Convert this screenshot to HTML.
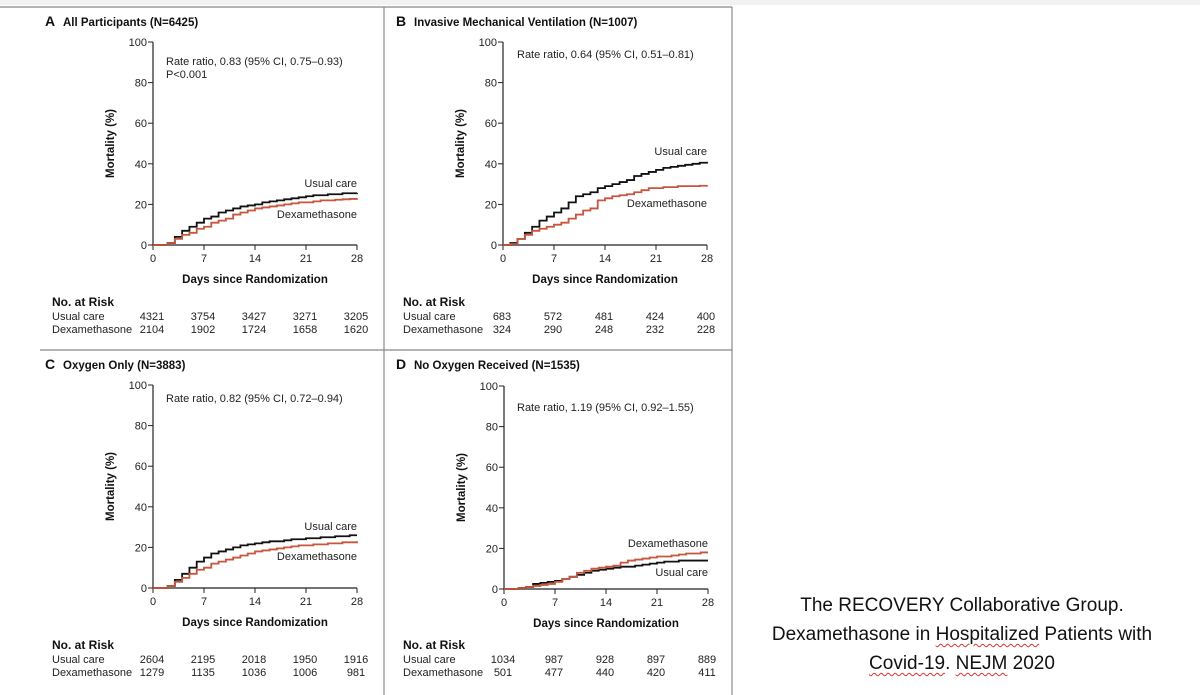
<!DOCTYPE html>
<html><head><meta charset="utf-8">
<style>
html,body{margin:0;padding:0;background:#fff;}
svg{display:block;font-family:"Liberation Sans",sans-serif;}
.cite{position:absolute;left:712px;width:500px;text-align:center;font-family:"Liberation Sans",sans-serif;font-size:19px;color:#111;line-height:29px;top:591px;white-space:nowrap;}
.sq{text-decoration:underline wavy #d33;text-decoration-thickness:1px;text-underline-offset:3px;}
</style></head>
<body>
<svg id="fig" width="1200" height="695" viewBox="0 0 1200 695">
<rect x="0" y="0" width="1200" height="5" fill="#f2f2f2"/>
<line x1="0" y1="7" x2="732" y2="7" stroke="#888" stroke-width="1.2"/>
<line x1="384" y1="7" x2="384" y2="695" stroke="#888" stroke-width="1.2"/>
<line x1="732" y1="7" x2="732" y2="695" stroke="#888" stroke-width="1.2"/>
<line x1="40" y1="350" x2="732" y2="350" stroke="#888" stroke-width="1.2"/>
</svg>
<div class="cite">The RECOVERY Collaborative Group.<br>Dexamethasone in <span class="sq">Hospitalized</span> Patients with<br><span class="sq">Covid-19</span>. <span class="sq">NEJM</span> 2020</div>
<script>
const days=[0,1,2,3,4,5,6,7,8,9,10,11,12,13,14,15,16,17,18,19,20,21,22,23,24,25,26,27,28];
const xTicks=[0,7,14,21,28];
const yTicks=[0,20,40,60,80,100];
const usualA=[0,0,1,4,7,9,11,13,14,16,17,18,19,19.5,20,21,21.5,22,22.5,23,23.5,24,24.5,24.5,25,25,25.5,25.5,25.7];
const dexA=[0,0,1,3,5,6,8,9,11,12,13,15,16,17,18,18.5,19,19.5,20,20.5,21,21,21.5,22,22,22.3,22.5,22.7,23];
const usualB=[0,1,3,6,9,12,14,16,18,21,24,25,26,28,29,30,31,32,34,35,36,37,38,38.5,39,39.5,40,40.5,41];
const dexB=[0,0.5,3,5,7,8,9,10,11,13,15,17,18,22,23,24,24.5,25,26,27,28,28,28.5,28.5,29,29,29,29.2,29.5];
const usualC=[0,0,1,4,7,10,13,15,17,18,19,20,21,21.5,22,22.5,23,23,23.5,24,24,24.5,24.5,25,25,25.5,25.5,26,26];
const dexC=[0,0,1,3,5,7,9,10,12,13,14,15,16,17,18,18.5,19,19.5,20,20.5,21,21,21.5,21.5,22,22,22.5,22.5,23];
const usualD=[0,0,0.5,1,2.5,3,3.5,4,5,6,7,8,9,9.5,10,10.5,11,11,11.5,12,12.5,13,13.5,13.5,14,14,14,14,14];
const dexD=[0,0,0.5,1,1.5,2,2.5,3.5,5,6,8,9,10,10.5,11,11.5,13,14,14.5,15,15.5,16,16,16.5,17,17.5,17.5,18,18];
const riskUsualA=["4321","3754","3427","3271","3205"], riskDexA=["2104","1902","1724","1658","1620"];
const riskUsualB=["683","572","481","424","400"], riskDexB=["324","290","248","232","228"];
const riskUsualC=["2604","2195","2018","1950","1916"], riskDexC=["1279","1135","1036","1006","981"];
const riskUsualD=["1034","987","928","897","889"], riskDexD=["501","477","440","420","411"];

const NS="http://www.w3.org/2000/svg";
const svg=document.getElementById('fig');
function el(tag,attrs,parent,text){const e=document.createElementNS(NS,tag);for(const k in attrs)e.setAttribute(k,attrs[k]);if(text!==undefined)e.textContent=text;(parent||svg).appendChild(e);return e;}

const panels=[
 {id:'a',L:'A',title:'All Participants (N=6425)',ox:0,oy:0,x0:153,y0:245,u:usualA,d:dexA,ru:riskUsualA,rd:riskDexA,
  rr:['Rate ratio, 0.83 (95% CI, 0.75–0.93)','P<0.001'],rrx:166,rry:65,uy:187,dy:218},
 {id:'b',L:'B',title:'Invasive Mechanical Ventilation (N=1007)',ox:351,oy:0,x0:503,y0:245,u:usualB,d:dexB,ru:riskUsualB,rd:riskDexB,
  rr:['Rate ratio, 0.64 (95% CI, 0.51–0.81)'],rrx:517,rry:58,uy:155,dy:207},
 {id:'c',L:'C',title:'Oxygen Only (N=3883)',ox:0,oy:343,x0:153,y0:588,u:usualC,d:dexC,ru:riskUsualC,rd:riskDexC,
  rr:['Rate ratio, 0.82 (95% CI, 0.72–0.94)'],rrx:166,rry:402,uy:530,dy:560},
 {id:'d',L:'D',title:'No Oxygen Received (N=1535)',ox:351,oy:343,x0:504,y0:589,u:usualD,d:dexD,ru:riskUsualD,rd:riskDexD,
  rr:['Rate ratio, 1.19 (95% CI, 0.92–1.55)'],rrx:517,rry:411,uy:576,dy:547}
];
const W=204,H=203;
panels.forEach(p=>{
 const g=el('g',{});
 
 
 const X=v=>p.x0+v/28*W, Y=v=>p.y0-v/100*H;
 const tL=el('text',{x:p.ox+45,y:p.oy+26,'font-size':14,'font-weight':'bold',fill:'#111'},g,p.L);
 
 
 const t=el('text',{x:p.ox+63,y:p.oy+26,'font-size':11.5,'font-weight':'bold',fill:'#111'},g,p.title);
 
 
 const ax=el('path',{d:`M${X(0)},${Y(100)}V${Y(0)}H${X(28)}`,stroke:'#222','stroke-width':1.2,fill:'none'},g);
 
 
 yTicks.forEach(v=>{
  el('line',{x1:X(0)-5,x2:X(0),y1:Y(v),y2:Y(v),stroke:'#222','stroke-width':1},g);
  const tl=el('text',{x:X(0)-6,y:Y(v)+4,'font-size':11,'text-anchor':'end',fill:'#222'},g,String(v));
  
  
 });
 xTicks.forEach(v=>{
  el('line',{x1:X(v),x2:X(v),y1:Y(0),y2:Y(0)+5,stroke:'#222','stroke-width':1},g);
  const tl=el('text',{x:X(v),y:Y(0)+17,'font-size':11,'text-anchor':'middle',fill:'#222'},g,String(v));
  
  
 });
 const xt=el('text',{x:X(14),y:Y(0)+38,'font-size':11.5,'font-weight':'bold','text-anchor':'middle',fill:'#111'},g,'Days since Randomization');
 
 
 const yt=el('text',{x:0,y:0,'font-size':11.5,'font-weight':'bold','text-anchor':'middle',fill:'#111',transform:`translate(${X(0)-39},${Y(50)}) rotate(-90)`},g,'Mortality (%)');
 
 
 p.rr.forEach((s,i)=>{
  const r=el('text',{x:p.rrx,y:p.rry+i*13,'font-size':11,fill:'#222'},g,s);
  
  
 });
 function step(arr){let d=`M${X(days[0])},${Y(arr[0])}`;for(let i=1;i<days.length;i++){d+=`H${X(days[i])}V${Y(arr[i])}`;}return d;}
 const cu=el('path',{d:step(p.u),stroke:'#111','stroke-width':1.8,fill:'none'},g);
 
 
 const cd=el('path',{d:step(p.d),stroke:'#c8553d','stroke-width':1.8,fill:'none'},g);
 
 
 const lu=el('text',{x:X(28),y:p.uy,'font-size':11,'text-anchor':'end',fill:'#222'},g,'Usual care');
 
 
 const ld=el('text',{x:X(28),y:p.dy,'font-size':11,'text-anchor':'end',fill:'#222'},g,'Dexamethasone');
 
 
 const ry=p.oy+306;
 const rh=el('text',{x:p.ox+52,y:ry,'font-size':12,'font-weight':'bold',fill:'#111'},g,'No. at Risk');
 
 
 const r1=el('text',{x:p.ox+52,y:ry+14,'font-size':11,fill:'#222'},g,'Usual care');
 
 
 const r2=el('text',{x:p.ox+52,y:ry+27,'font-size':11,fill:'#222'},g,'Dexamethasone');
 
 
 xTicks.forEach((v,i)=>{
  const a=el('text',{x:X(v)-1,y:ry+14,'font-size':11,'text-anchor':'middle',fill:'#222'},g,p.ru[i]);
  
  
  const b=el('text',{x:X(v)-1,y:ry+27,'font-size':11,'text-anchor':'middle',fill:'#222'},g,p.rd[i]);
  
  
 });
});
</script>
</body></html>
